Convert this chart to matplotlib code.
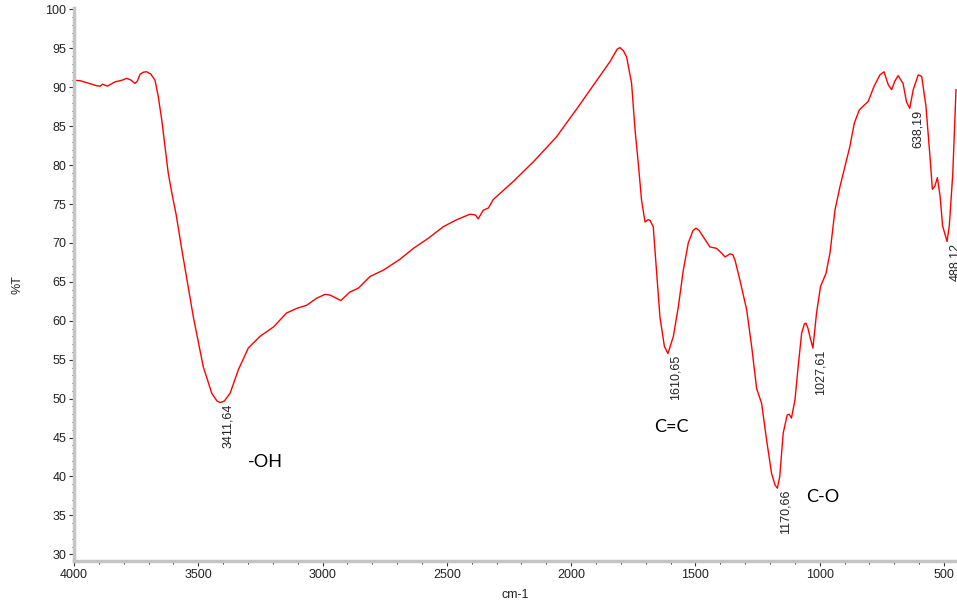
import matplotlib.pyplot as plt
from matplotlib.ticker import MultipleLocator

# FTIR spectrum: wavenumber (cm-1) and transmittance (%T)
wavenumber = [
    4000, 3976, 3949, 3909, 3895, 3885, 3866, 3835, 3808, 3788,
    3772, 3755, 3745, 3734, 3720, 3708, 3691, 3674, 3661, 3647,
    3634, 3621, 3607, 3590, 3566, 3545, 3520, 3480, 3446, 3425,
    3411.64, 3395, 3372, 3339, 3299, 3252, 3198, 3145, 3104, 3064,
    3024, 2990, 2970, 2957, 2927, 2910, 2890, 2856, 2809, 2756,
    2689, 2635, 2575, 2514, 2460, 2407, 2385, 2374, 2354, 2333,
    2313, 2233, 2150, 2060, 1976, 1897, 1844, 1815, 1804, 1790,
    1777, 1757, 1743, 1730, 1717, 1703, 1690, 1683, 1670, 1656,
    1643, 1625, 1610.65, 1589, 1569, 1549, 1529, 1510, 1498, 1485,
    1469, 1442, 1415, 1395, 1381, 1361, 1350, 1341, 1321, 1294,
    1274, 1254, 1234, 1214, 1194, 1180, 1170.66, 1161, 1147, 1131,
    1123, 1114, 1100, 1087, 1073, 1062, 1056, 1048, 1040, 1027.61,
    1013, 997, 975, 959, 939, 919, 899, 879, 861, 841,
    805, 782, 758, 742, 724, 711, 698, 685, 665, 651,
    638.19, 624, 604, 590, 573, 557, 547, 537, 527, 516,
    506, 488.12, 479, 465, 452,
]
transmittance = [
    90.9, 90.85, 90.6, 90.2, 90.15, 90.4, 90.15, 90.7, 90.9, 91.15,
    90.95, 90.5, 90.8, 91.7, 91.95, 92.0, 91.7, 90.9, 88.8, 85.8,
    82.4, 79.0, 76.5, 73.8, 69.1, 65.2, 60.5, 54.1, 50.7, 49.7,
    49.5, 49.7, 50.7, 53.7, 56.5, 58.0, 59.2, 61.0, 61.6, 62.0,
    62.9, 63.4, 63.3, 63.1, 62.6, 63.1, 63.7, 64.2, 65.7, 66.5,
    67.9, 69.3, 70.6, 72.1, 73.0, 73.7, 73.6, 73.1, 74.2, 74.5,
    75.6, 77.9, 80.5, 83.6, 87.3, 90.9, 93.3, 94.9, 95.1, 94.7,
    93.9, 90.5, 84.5, 80.2, 75.5, 72.7, 73.0, 72.9, 72.1, 66.1,
    60.5, 56.7, 55.8, 58.0, 61.8, 66.5, 70.0, 71.6, 71.9, 71.6,
    70.8, 69.5, 69.3, 68.7, 68.2, 68.6, 68.5, 67.8, 65.2, 61.4,
    56.7, 51.3, 49.4, 44.7, 40.4, 38.9, 38.5, 40.0, 45.6, 47.9,
    48.0, 47.5, 49.8, 54.1, 58.4, 59.6, 59.7, 59.1, 58.0, 56.5,
    61.0, 64.4, 66.1, 68.7, 74.2, 77.2, 79.8, 82.4, 85.4, 87.1,
    88.2, 90.1, 91.6, 92.0, 90.3, 89.7, 90.8, 91.5, 90.5, 88.1,
    87.3, 89.7, 91.6, 91.4, 87.6, 81.2, 76.9, 77.3, 78.4, 76.0,
    72.2, 70.2, 72.2, 78.9, 89.7,
]

# labelled minima
peak_wn = [3411.64, 1610.65, 1170.66, 1027.61, 638.19, 488.12]
peak_t = [49.5, 55.8, 38.5, 56.5, 87.3, 70.2]
peak_text = ["3411,64", "1610,65", "1170,66", "1027,61", "638,19", "488,12"]

# functional group annotations
group_text = ["-OH", "C=C", "C-O"]
group_wn = [3232, 1596, 990]
group_t = [41.9, 46.3, 37.4]

plt.rcParams['font.family'] = ['Liberation Sans', 'DejaVu Sans']

fig = plt.figure(figsize=(9.57, 6.02), dpi=100)
ax = fig.add_axes([74 / 957, 41 / 602, 1 - 74 / 957, 553 / 602])

ax.plot(wavenumber, transmittance, color='#ff0000', lw=1.0)

for w, t, s in zip(peak_wn, peak_t, peak_text):
    ax.annotate(s, (w, t), xytext=(5.8, -1), textcoords='offset points',
                rotation=90, ha='center', va='top', fontsize=9, color='#222222',
                annotation_clip=False)

for s, w, t in zip(group_text, group_wn, group_t):
    ax.text(w, t, s, ha='center', va='center', fontsize=13,
            family=['Lato', 'DejaVu Sans'], color='black')

ax.set_xlim(4000, 448)
ax.set_ylim(29.14, 100.19)
ax.xaxis.set_major_locator(MultipleLocator(500))
ax.xaxis.set_minor_locator(MultipleLocator(100))
ax.yaxis.set_major_locator(MultipleLocator(5))
ax.yaxis.set_minor_locator(MultipleLocator(1))

for side in ['top', 'right']:
    ax.spines[side].set_visible(False)
for side in ['left', 'bottom']:
    ax.spines[side].set_color('#c4c4c4')
    ax.spines[side].set_linewidth(2.5)

ax.tick_params(which='major', direction='out', length=3.5, width=0.8,
               color='#333333', labelsize=9, labelcolor='#222222', pad=2)
ax.tick_params(which='minor', direction='out', length=1.8, width=0.7,
               color='#333333')

ax.set_xlabel('cm-1', fontsize=9, color='#222222', labelpad=6)
ax.set_ylabel('%T', fontsize=9, color='#222222', labelpad=16)

fig.savefig('out.png', dpi=100)
